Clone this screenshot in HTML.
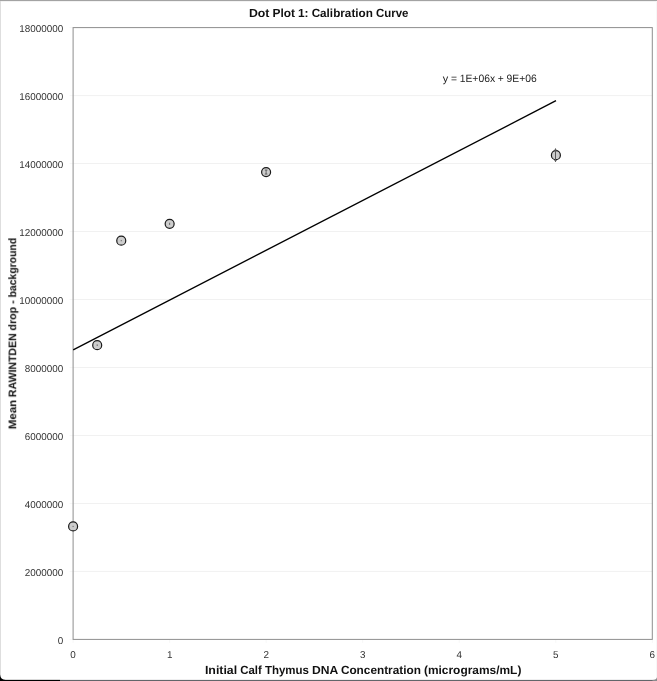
<!DOCTYPE html>
<html lang="en">
<head>
<meta charset="utf-8">
<title>Dot Plot 1: Calibration Curve</title>
<style>
html,body{margin:0;padding:0;background:#fff;}
body{width:657px;height:681px;overflow:hidden;}
svg{display:block;}
text{font-family:"Liberation Sans",sans-serif;text-rendering:geometricPrecision;}
.tick{font-size:10px;fill:#333;}
.ttl{font-size:11.8px;font-weight:bold;fill:#111;}
.ytl{font-size:11px;font-weight:bold;fill:#111;}
.eq{font-size:10.6px;fill:#222;}
</style>
</head>
<body>
<svg width="657" height="681" viewBox="0 0 657 681">

<defs><filter id="gs" filterUnits="userSpaceOnUse" x="0" y="0" width="657" height="681" color-interpolation-filters="sRGB"><feOffset dx="0" dy="0"/></filter></defs>
<rect x="0" y="0" width="657" height="681" fill="#fff"/>
<rect x="0" y="0" width="657" height="1" fill="#a3a3a3"/>
<rect x="0" y="1" width="657" height="1" fill="#f3f3f3"/>
<rect x="0" y="1" width="1" height="676" fill="#dedede"/>
<rect x="656" y="1" width="1" height="677" fill="#f7f7f7"/>
<rect x="60" y="679.9" width="597" height="1.1" fill="#62666a"/>
<rect x="0" y="679.85" width="60" height="1.15" fill="#000"/>
<path d="M0 674.5 Q0.5 679.6 5.5 679.9 L5.5 681 L0 681 Z" fill="#000"/>
<path d="M657 677.3 Q656.6 679.8 652.5 679.9 L652.5 681 L657 681 Z" fill="#8c8c8e"/>
<line x1="73.10" y1="571.42" x2="652.30" y2="571.42" stroke="#f1f1f1" stroke-width="1"/>
<line x1="69.60" y1="571.42" x2="73.10" y2="571.42" stroke="#f7f7f7" stroke-width="1"/>
<line x1="73.10" y1="503.44" x2="652.30" y2="503.44" stroke="#f1f1f1" stroke-width="1"/>
<line x1="69.60" y1="503.44" x2="73.10" y2="503.44" stroke="#f7f7f7" stroke-width="1"/>
<line x1="73.10" y1="435.47" x2="652.30" y2="435.47" stroke="#f1f1f1" stroke-width="1"/>
<line x1="69.60" y1="435.47" x2="73.10" y2="435.47" stroke="#f7f7f7" stroke-width="1"/>
<line x1="73.10" y1="367.49" x2="652.30" y2="367.49" stroke="#f1f1f1" stroke-width="1"/>
<line x1="69.60" y1="367.49" x2="73.10" y2="367.49" stroke="#f7f7f7" stroke-width="1"/>
<line x1="73.10" y1="299.51" x2="652.30" y2="299.51" stroke="#f1f1f1" stroke-width="1"/>
<line x1="69.60" y1="299.51" x2="73.10" y2="299.51" stroke="#f7f7f7" stroke-width="1"/>
<line x1="73.10" y1="231.53" x2="652.30" y2="231.53" stroke="#f1f1f1" stroke-width="1"/>
<line x1="69.60" y1="231.53" x2="73.10" y2="231.53" stroke="#f7f7f7" stroke-width="1"/>
<line x1="73.10" y1="163.56" x2="652.30" y2="163.56" stroke="#f1f1f1" stroke-width="1"/>
<line x1="69.60" y1="163.56" x2="73.10" y2="163.56" stroke="#f7f7f7" stroke-width="1"/>
<line x1="73.10" y1="95.58" x2="652.30" y2="95.58" stroke="#f1f1f1" stroke-width="1"/>
<line x1="69.60" y1="95.58" x2="73.10" y2="95.58" stroke="#f7f7f7" stroke-width="1"/>
<line x1="69.60" y1="639.40" x2="73.10" y2="639.40" stroke="#f7f7f7" stroke-width="1"/>
<line x1="69.60" y1="27.60" x2="73.10" y2="27.60" stroke="#f7f7f7" stroke-width="1"/>
<line x1="73.10" y1="639.40" x2="73.10" y2="642.90" stroke="#f7f7f7" stroke-width="1"/>
<line x1="169.63" y1="639.40" x2="169.63" y2="642.90" stroke="#f7f7f7" stroke-width="1"/>
<line x1="266.17" y1="639.40" x2="266.17" y2="642.90" stroke="#f7f7f7" stroke-width="1"/>
<line x1="362.70" y1="639.40" x2="362.70" y2="642.90" stroke="#f7f7f7" stroke-width="1"/>
<line x1="459.23" y1="639.40" x2="459.23" y2="642.90" stroke="#f7f7f7" stroke-width="1"/>
<line x1="555.77" y1="639.40" x2="555.77" y2="642.90" stroke="#f7f7f7" stroke-width="1"/>
<line x1="652.30" y1="639.40" x2="652.30" y2="642.90" stroke="#f7f7f7" stroke-width="1"/>
<rect x="73.10" y="27.60" width="579.20" height="611.80" fill="none" stroke="#8e8e8e" stroke-width="1"/>
<g filter="url(#gs)">
<text class="tick" x="63.3" y="643.95" text-anchor="end" textLength="5.50" lengthAdjust="spacingAndGlyphs">0</text>
<text class="tick" x="63.3" y="575.97" text-anchor="end" textLength="38.50" lengthAdjust="spacingAndGlyphs">2000000</text>
<text class="tick" x="63.3" y="507.99" text-anchor="end" textLength="38.50" lengthAdjust="spacingAndGlyphs">4000000</text>
<text class="tick" x="63.3" y="440.02" text-anchor="end" textLength="38.50" lengthAdjust="spacingAndGlyphs">6000000</text>
<text class="tick" x="63.3" y="372.04" text-anchor="end" textLength="38.50" lengthAdjust="spacingAndGlyphs">8000000</text>
<text class="tick" x="63.3" y="304.06" text-anchor="end" textLength="44.00" lengthAdjust="spacingAndGlyphs">10000000</text>
<text class="tick" x="63.3" y="236.08" text-anchor="end" textLength="44.00" lengthAdjust="spacingAndGlyphs">12000000</text>
<text class="tick" x="63.3" y="168.11" text-anchor="end" textLength="44.00" lengthAdjust="spacingAndGlyphs">14000000</text>
<text class="tick" x="63.3" y="100.13" text-anchor="end" textLength="44.00" lengthAdjust="spacingAndGlyphs">16000000</text>
<text class="tick" x="63.3" y="32.15" text-anchor="end" textLength="44.00" lengthAdjust="spacingAndGlyphs">18000000</text>
<text class="tick" x="73.10" y="657.7" text-anchor="middle" textLength="5.5" lengthAdjust="spacingAndGlyphs">0</text>
<text class="tick" x="169.63" y="657.7" text-anchor="middle" textLength="5.5" lengthAdjust="spacingAndGlyphs">1</text>
<text class="tick" x="266.17" y="657.7" text-anchor="middle" textLength="5.5" lengthAdjust="spacingAndGlyphs">2</text>
<text class="tick" x="362.70" y="657.7" text-anchor="middle" textLength="5.5" lengthAdjust="spacingAndGlyphs">3</text>
<text class="tick" x="459.23" y="657.7" text-anchor="middle" textLength="5.5" lengthAdjust="spacingAndGlyphs">4</text>
<text class="tick" x="555.77" y="657.7" text-anchor="middle" textLength="5.5" lengthAdjust="spacingAndGlyphs">5</text>
<text class="tick" x="652.30" y="657.7" text-anchor="middle" textLength="5.5" lengthAdjust="spacingAndGlyphs">6</text>
</g>
<line x1="73.2" y1="349.8" x2="556" y2="100.7" stroke="#000" stroke-width="1.35" stroke-linecap="butt"/>
<circle cx="73.1" cy="526.46" r="4.5" fill="#cdcdcd" stroke="#1a1a1a" stroke-width="1.2"/>
<line x1="73.1" y1="525.86" x2="73.1" y2="527.06" stroke="#666" stroke-width="1"/>
<circle cx="97.2" cy="345.17" r="4.5" fill="#cdcdcd" stroke="#1a1a1a" stroke-width="1.2"/>
<line x1="97.2" y1="344.37" x2="97.2" y2="345.97" stroke="#666" stroke-width="1"/>
<circle cx="121.25" cy="240.65" r="4.5" fill="#cdcdcd" stroke="#1a1a1a" stroke-width="1.2"/>
<line x1="121.25" y1="240.05" x2="121.25" y2="241.25" stroke="#666" stroke-width="1"/>
<circle cx="169.65" cy="223.83" r="4.5" fill="#cdcdcd" stroke="#1a1a1a" stroke-width="1.2"/>
<line x1="169.65" y1="222.73" x2="169.65" y2="224.93" stroke="#666" stroke-width="1"/>
<circle cx="266.1" cy="172.05" r="4.5" fill="#cdcdcd" stroke="#1a1a1a" stroke-width="1.2"/>
<line x1="266.1" y1="170.05" x2="266.1" y2="174.05" stroke="#666" stroke-width="1"/>
<line x1="264.8" y1="170.05" x2="267.40000000000003" y2="170.05" stroke="#555" stroke-width="0.9"/>
<line x1="264.8" y1="174.05" x2="267.40000000000003" y2="174.05" stroke="#555" stroke-width="0.9"/>
<circle cx="555.9" cy="155.2" r="4.5" fill="#cdcdcd" stroke="#1a1a1a" stroke-width="1.2"/>
<line x1="555.5" y1="148.60" x2="555.5" y2="161.80" stroke="#5a5a5a" stroke-width="1"/>
<path d="M554.0 150.50 L555.5 148.30 L557.0 150.50 Z" fill="#5a5a5a"/>
<path d="M554.0 159.90 L555.5 162.10 L557.0 159.90 Z" fill="#5a5a5a"/>
<g filter="url(#gs)">
<text class="ttl" y="16.7"><tspan x="248.90" textLength="20.49" lengthAdjust="spacingAndGlyphs">Dot</tspan> <tspan x="272.45" textLength="22.49" lengthAdjust="spacingAndGlyphs">Plot</tspan> <tspan x="298.00" textLength="10.59" lengthAdjust="spacingAndGlyphs">1:</tspan> <tspan x="311.64" textLength="61.26" lengthAdjust="spacingAndGlyphs">Calibration</tspan> <tspan x="375.97" textLength="32.43" lengthAdjust="spacingAndGlyphs">Curve</tspan></text>
<text class="ttl" y="673.8"><tspan x="204.90" textLength="32.30" lengthAdjust="spacingAndGlyphs">Initial</tspan> <tspan x="240.28" textLength="21.57" lengthAdjust="spacingAndGlyphs">Calf</tspan> <tspan x="264.92" textLength="44.04" lengthAdjust="spacingAndGlyphs">Thymus</tspan> <tspan x="312.04" textLength="25.79" lengthAdjust="spacingAndGlyphs">DNA</tspan> <tspan x="340.90" textLength="79.97" lengthAdjust="spacingAndGlyphs">Concentration</tspan> <tspan x="423.95" textLength="97.45" lengthAdjust="spacingAndGlyphs">(micrograms/mL)</tspan></text>
<text class="ytl" y="0" transform="translate(16.2 429.2) rotate(-90)"><tspan x="0.00" textLength="29.34" lengthAdjust="spacingAndGlyphs">Mean</tspan> <tspan x="32.09" textLength="63.77" lengthAdjust="spacingAndGlyphs">RAWINTDEN</tspan> <tspan x="98.62" textLength="23.81" lengthAdjust="spacingAndGlyphs">drop</tspan> <tspan x="125.18" textLength="3.73" lengthAdjust="spacingAndGlyphs">-</tspan> <tspan x="131.67" textLength="59.63" lengthAdjust="spacingAndGlyphs">background</tspan></text>
<text class="eq" y="82"><tspan x="442.80" textLength="5.45" lengthAdjust="spacingAndGlyphs">y</tspan> <tspan x="450.98" textLength="6.00" lengthAdjust="spacingAndGlyphs">=</tspan> <tspan x="459.71" textLength="35.43" lengthAdjust="spacingAndGlyphs">1E+06x</tspan> <tspan x="497.86" textLength="6.00" lengthAdjust="spacingAndGlyphs">+</tspan> <tspan x="506.59" textLength="30.21" lengthAdjust="spacingAndGlyphs">9E+06</tspan></text>
</g>
</svg>
</body>
</html>
